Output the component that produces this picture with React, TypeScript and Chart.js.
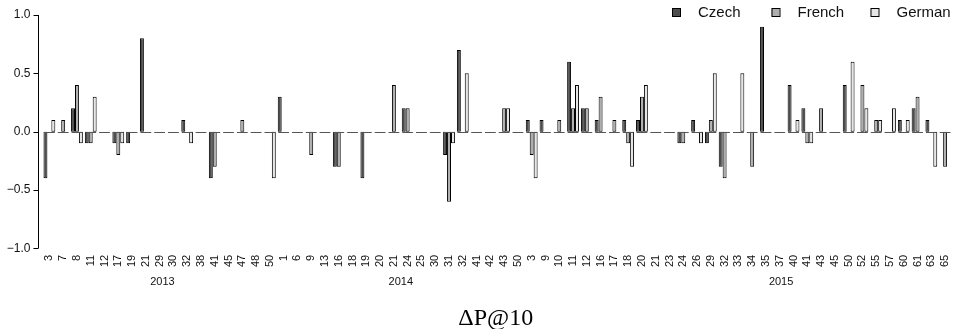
import React, { useEffect, useRef } from "react";
import { Chart, registerables } from "chart.js";

Chart.register(...registerables);

const cats2013 = ["3", "7", "8", "11", "12", "17", "19", "21", "29", "30", "32", "38", "41", "45", "47", "48", "50"];
const cats2014 = ["1", "6", "9", "13", "16", "18", "19", "20", "21", "24", "25", "30", "31", "32", "41", "42", "43", "50"];
const cats2015 = ["3", "9", "10", "11", "12", "16", "17", "18", "20", "21", "23", "24", "26", "29", "32", "33", "34", "35", "37", "40", "41", "43", "45", "50", "52", "55", "57", "60", "61", "63", "65"];
const categories = [...cats2013, ...cats2014, ...cats2015];

const years = ["2013", "2014", "2015"];
// label anchor, in category index units
const yearAnchors = [8.2, 25.5, 53.1];

const seriesNames = ["Czech", "French", "German"];
const seriesColors = ["#4D4D4D", "#AEAEAE", "#E6E6E6"];

const czech = [
  -0.4, 0, 0.2, -0.1, 0, -0.1, -0.1, 0.8, 0, 0, 0.1, 0, -0.4, 0, 0, 0, 0,
  0.3, 0, 0, 0, -0.3, 0, -0.4, 0, 0, 0.2, 0, 0, -0.2, 0.7, 0, 0, 0, 0,
  0.1, 0.1, 0, 0.6, 0.2, 0.1, 0, 0.1, 0.1, 0, 0, -0.1, 0.1, -0.1, -0.3, 0, 0, 0.9, 0, 0.4, 0.2, 0, 0, 0.4, 0, 0, 0, 0.1, 0.2, 0.1, 0,
];
const french = [
  0, 0.1, 0.4, -0.1, 0, -0.2, 0, 0, 0, 0, 0, 0, -0.3, 0, 0.1, 0, 0,
  0, 0, -0.2, 0, -0.3, 0, 0, 0, 0.4, 0.2, 0, 0, -0.6, 0, 0, 0, 0.2, 0,
  -0.2, 0, 0.1, 0.2, 0.2, 0.3, 0.1, -0.1, 0.3, 0, 0, -0.1, 0, 0.1, -0.4, 0, -0.3, 0, 0, 0, -0.1, 0.2, 0, 0, 0.4, 0.1, 0, 0, 0.3, 0, -0.3,
];
const german = [
  0.1, 0, -0.1, 0.3, 0, -0.1, 0, 0, 0, 0, -0.1, 0, 0, 0, 0, 0, -0.4,
  0, 0, 0, 0, 0, 0, 0, 0, 0, 0, 0, 0, -0.1, 0.5, 0, 0, 0.2, 0,
  -0.4, 0, 0, 0.4, 0, 0, 0, -0.3, 0.4, 0, 0, 0, -0.1, 0.5, 0, 0.5, 0, 0, 0, 0.1, -0.1, 0, 0, 0.6, 0.2, 0.1, 0.2, 0.1, 0, -0.3, 0,
];

const yTicks = [-1, -0.5, 0, 0.5, 1];
const titleText = "\u0394P@10";

const SANS = "'Liberation Sans', Arial, Helvetica, sans-serif";

const rPlugin = {
  id: "rstyle",
  afterDatasetsDraw(chart: any) {
    const ctx = chart.ctx as CanvasRenderingContext2D;
    const area = chart.chartArea;
    const ys = chart.scales.y;
    const m0 = chart.getDatasetMeta(0);
    const m1 = chart.getDatasetMeta(1);
    const m2 = chart.getDatasetMeta(2);
    ctx.save();

    // zero baseline per group (R draws zero-height bars as lines)
    const y0 = Math.round(ys.getPixelForValue(0)) + 0.5;
    ctx.strokeStyle = "#555";
    ctx.lineWidth = 1;
    ctx.beginPath();
    for (let i = 0; i < categories.length; i++) {
      const a = m0.data[i];
      const b = m2.data[i];
      ctx.moveTo(a.x - a.width / 2 + 0.5, y0);
      ctx.lineTo(b.x + b.width / 2 - 0.5, y0);
    }
    ctx.stroke();

    // y axis
    const ax = Math.round(area.left - 4.5) + 0.5;
    ctx.strokeStyle = "#000";
    ctx.beginPath();
    ctx.moveTo(ax, ys.getPixelForValue(yTicks[0]));
    ctx.lineTo(ax, ys.getPixelForValue(yTicks[yTicks.length - 1]));
    for (const t of yTicks) {
      const py = Math.round(ys.getPixelForValue(t)) + 0.5;
      ctx.moveTo(ax - 5, py);
      ctx.lineTo(ax, py);
    }
    ctx.stroke();
    ctx.fillStyle = "#111";
    ctx.font = `12px ${SANS}`;
    ctx.textAlign = "right";
    ctx.textBaseline = "middle";
    for (const t of yTicks) {
      const s = (t < 0 ? "\u2212" : "") + Math.abs(t).toFixed(1);
      ctx.fillText(s, ax - 8, ys.getPixelForValue(t));
    }

    // category labels, rotated
    ctx.font = `11px ${SANS}`;
    ctx.textAlign = "right";
    ctx.textBaseline = "middle";
    for (let i = 0; i < categories.length; i++) {
      const x = m1.data[i].x;
      ctx.save();
      ctx.translate(x, area.bottom + 6.5);
      ctx.rotate(-Math.PI / 2);
      ctx.fillText(categories[i], 0, 0);
      ctx.restore();
    }

    // year labels
    const step = (area.right - area.left) / categories.length;
    ctx.font = `11px ${SANS}`;
    ctx.textAlign = "center";
    for (let k = 0; k < years.length; k++) {
      const x = area.left + (yearAnchors[k] + 0.5) * step;
      ctx.fillText(years[k], x, area.bottom + 33.5);
    }

    // title
    ctx.font = `24px 'Liberation Serif', 'Times New Roman', serif`;
    ctx.textAlign = "center";
    ctx.textBaseline = "alphabetic";
    ctx.fillStyle = "#000";
    ctx.fillText(titleText, (area.left + area.right) / 2 - 1.5, 325);

    // legend
    const legendX = [672, 771.5, 870.5];
    ctx.font = `15px ${SANS}`;
    ctx.textAlign = "left";
    ctx.textBaseline = "middle";
    for (let k = 0; k < seriesNames.length; k++) {
      ctx.fillStyle = seriesColors[k];
      ctx.fillRect(legendX[k], 8.5, 8, 8);
      ctx.strokeStyle = "#000";
      ctx.strokeRect(legendX[k] + 0.5, 8.5, 8, 8);
      ctx.fillStyle = "#111";
      ctx.fillText(seriesNames[k], legendX[k] + 26, 12.8);
    }
    ctx.restore();
  },
};

export default function App() {
  const ref = useRef<HTMLCanvasElement | null>(null);
  useEffect(() => {
    if (!ref.current) return;
    const seriesData = [czech, french, german];
    const chart = new Chart(ref.current, {
      type: "bar",
      data: {
        labels: categories,
        datasets: seriesNames.map((name, k) => ({
          label: name,
          data: seriesData[k],
          backgroundColor: seriesColors[k],
          borderColor: "#000",
          borderWidth: (c: any) => (c.raw === 0 ? 0 : 1),
          borderSkipped: false,
          categoryPercentage: 0.857,
          barPercentage: 1,
        })),
      },
      options: {
        responsive: false,
        animation: false,
        devicePixelRatio: 1,
        layout: { padding: { left: 42.5, right: 5, top: 15, bottom: 80.7 } },
        scales: {
          x: { display: false, offset: true },
          y: { display: false, min: -1, max: 1 },
        },
        plugins: {
          legend: { display: false },
          tooltip: { enabled: false },
          title: { display: false },
        },
      },
      plugins: [rPlugin],
    } as any);
    return () => chart.destroy();
  }, []);
  return (
    <div style={{ position: "absolute", left: 0, top: 0, width: 957, height: 329, background: "#fff" }}>
      <canvas ref={ref} width={957} height={329} style={{ display: "block" }} />
    </div>
  );
}
